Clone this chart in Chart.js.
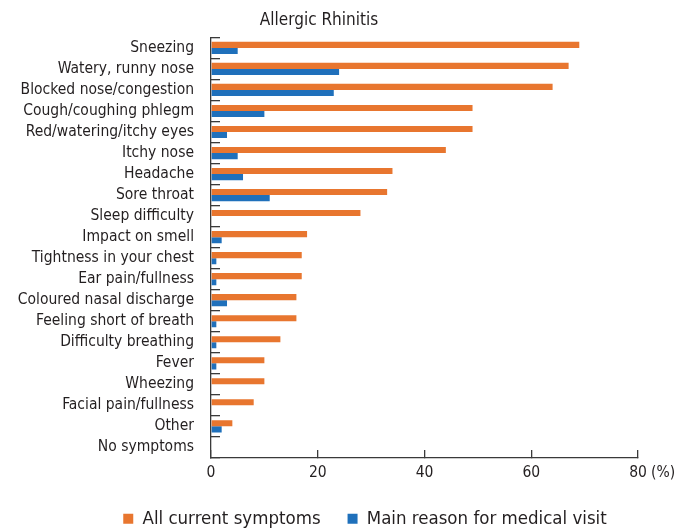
<!DOCTYPE html>
<html>
<head>
<meta charset="utf-8">
<script src="https://cdn.jsdelivr.net/npm/chart.js@4/dist/chart.umd.min.js"></script>
<style>
  html, body { margin: 0; padding: 0; background: #fff; }
  #wrap { width: 675px; height: 528px; }
</style>
</head>
<body>
<div id="wrap"><canvas id="chart"></canvas></div>
<script>
const symptoms = [
  'Sneezing',
  'Watery, runny nose',
  'Blocked nose/congestion',
  'Cough/coughing phlegm',
  'Red/watering/itchy eyes',
  'Itchy nose',
  'Headache',
  'Sore throat',
  'Sleep difficulty',
  'Impact on smell',
  'Tightness in your chest',
  'Ear pain/fullness',
  'Coloured nasal discharge',
  'Feeling short of breath',
  'Difficulty breathing',
  'Fever',
  'Wheezing',
  'Facial pain/fullness',
  'Other',
  'No symptoms',
];

const all_current = [69, 67, 64, 49, 49, 44, 34, 33, 28, 18, 17, 17, 16, 16, 13, 10, 10, 8, 4, 0];
const main_reason = [5, 24, 23, 10, 3, 5, 6, 11, 0, 2, 1, 1, 3, 1, 1, 1, 0, 0, 2, 0];

const x_ticks = [0, 20, 40, 60, 80];

const font_family = '"Liberation Sans Narrow", "DejaVu Sans Condensed", sans-serif';
const text_color = '#231f20';
const axis_color = '#3a3a3a';

// extra text after the last x tick
const percentLabel = {
  id: 'percentLabel',
  afterDraw(chart) {
    const sx = chart.scales.x;
    const ctx = chart.ctx;
    ctx.save();
    ctx.font = '15.5px ' + font_family;
    ctx.fillStyle = text_color;
    ctx.textAlign = 'left';
    ctx.textBaseline = 'middle';
    ctx.fillText('(%)', sx.right + 13, sx.top + 15);
    ctx.restore();
  }
};

// nudge the legend like the original
const legendShift = {
  id: 'legendShift',
  afterLayout(chart) {
    const lg = chart.legend;
    lg.left += 46;
    lg.right += 46;
    lg.top -= 14;
    lg.bottom -= 14;
  }
};

const data_chart = {
  labels: symptoms,
  datasets: [{
    label: 'All current symptoms',
    backgroundColor: '#e8762f',
    data: all_current,
  }, {
    label: 'Main reason for medical visit',
    backgroundColor: '#1f70bb',
    data: main_reason,
  }]
};

const config_chart = {
  type: 'bar',
  data: data_chart,
  plugins: [percentLabel, legendShift],
  options: {
    indexAxis: 'y',
    responsive: true,
    maintainAspectRatio: false,
    animation: false,
    categoryPercentage: 0.58,
    barPercentage: 1.0,
    layout: { padding: { top: 0, right: 37, bottom: -24, left: 0 } },
    scales: {
      x: {
        min: 0,
        max: 80,
        afterBuildTicks(scale) { scale.ticks = x_ticks.map(v => ({ value: v })); },
        grid: { drawOnChartArea: false, tickLength: -8, color: axis_color, lineWidth: 1.3 },
        border: { color: axis_color, width: 1.3 },
        ticks: { padding: 14, color: text_color, font: { family: font_family, size: 15.5 } },
      },
      y: {
        afterFit(scale) { scale.width = 211; },
        grid: { drawOnChartArea: false, tickLength: -9, color: axis_color, lineWidth: 1.3 },
        border: { color: axis_color, width: 1.3 },
        ticks: { padding: 26, color: text_color, autoSkip: false, font: { family: font_family, size: 15.5 } },
      },
    },
    plugins: {
      title: {
        display: true,
        text: 'Allergic Rhinitis',
        color: text_color,
        font: { family: font_family, size: 17, weight: 'normal' },
        padding: { top: 10, bottom: 7 },
      },
      legend: {
        position: 'bottom',
        labels: {
          boxWidth: 10,
          boxHeight: 10,
          padding: 27,
          color: text_color,
          font: { family: font_family, size: 18.5 },
        },
      },
      tooltip: { enabled: false },
    },
  },
};

const chart = new Chart(document.getElementById('chart'), config_chart);
</script>
</body>
</html>
